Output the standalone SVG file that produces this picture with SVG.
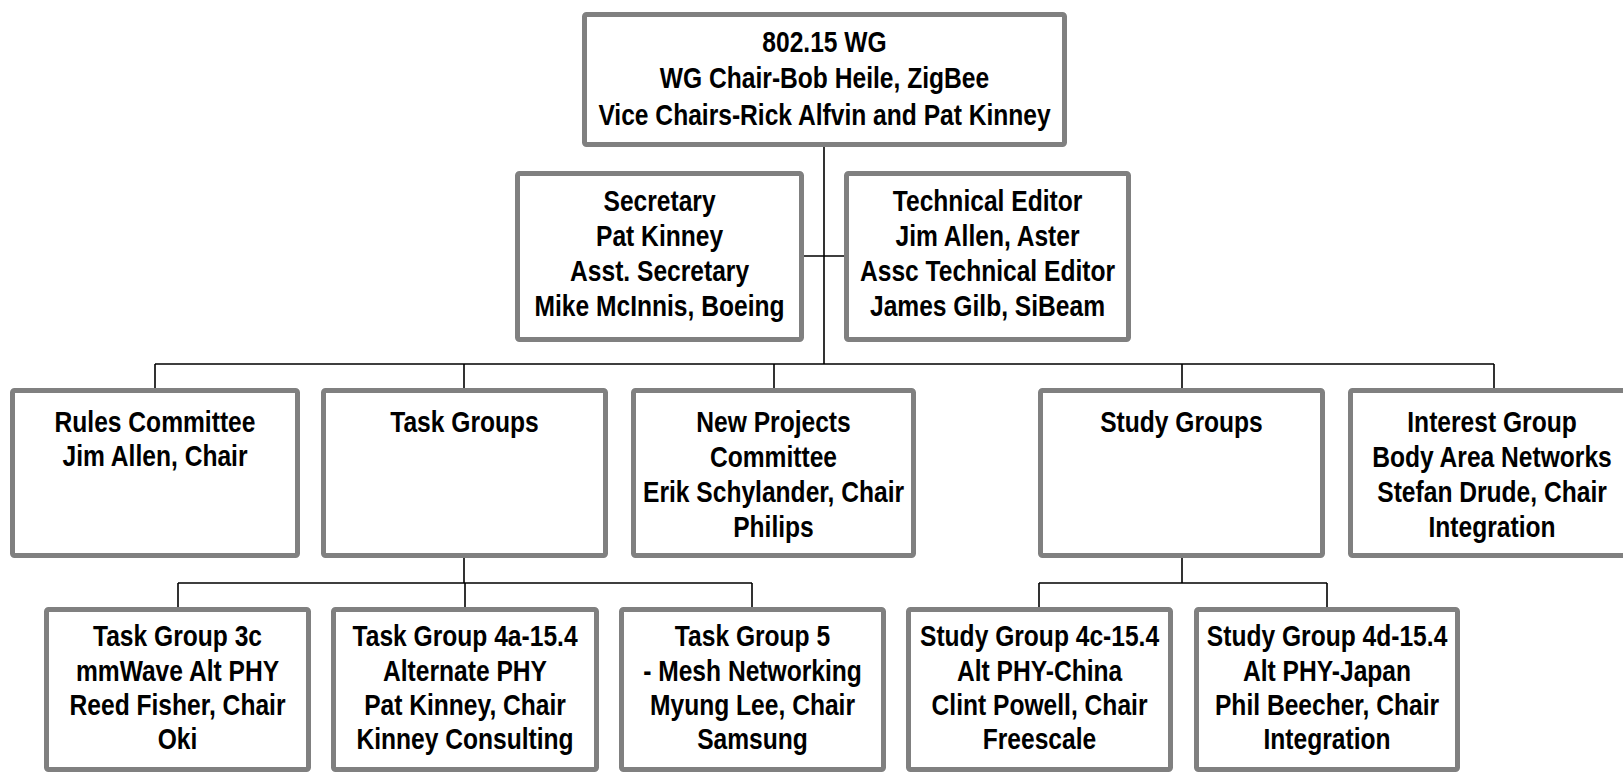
<svg xmlns="http://www.w3.org/2000/svg" width="1623" height="772" viewBox="0 0 1623 772">
<style>
.box{fill:#fff;stroke:#808080;stroke-width:5}
.ln{stroke:#000;stroke-width:1.6;fill:none}
text{font-family:"Liberation Sans",Arial,sans-serif;font-weight:bold;font-size:30px;fill:#000;text-anchor:middle;transform-box:fill-box;transform-origin:center;transform:scaleX(.82)}
</style>
<rect width="1623" height="772" fill="#fff"/>
<g id="connectors">
<path class="ln" d="M824 146V364M804 256H844M155 364H1494M155 364V388M464 364V388M774 364V388M1182 364V388M1494 364V388M464 557V583M178 583H752M178 583V607M465 583V607M752 583V607M1182 557V583M1039 583H1327M1039 583V607M1327 583V607"/>
</g>
<g id="wg">
<rect class="box" x="584.5" y="14.5" width="480" height="130" rx="2"/>
<text x="824.5" y="52">802.15 WG</text>
<text x="824.5" y="88">WG Chair-Bob Heile, ZigBee</text>
<text x="824.5" y="125">Vice Chairs-Rick Alfvin and Pat Kinney</text>
</g>
<g id="secretary">
<rect class="box" x="517.5" y="173.5" width="284" height="166" rx="2"/>
<text x="659.5" y="211">Secretary</text>
<text x="659.5" y="246">Pat Kinney</text>
<text x="659.5" y="281">Asst. Secretary</text>
<text x="659.5" y="316">Mike McInnis, Boeing</text>
</g>
<g id="techeditor">
<rect class="box" x="846.5" y="173.5" width="282" height="166" rx="2"/>
<text x="987.5" y="211">Technical Editor</text>
<text x="987.5" y="246">Jim Allen, Aster</text>
<text x="987.5" y="281">Assc Technical Editor</text>
<text x="987.5" y="316">James Gilb, SiBeam</text>
</g>
<g id="rules">
<rect class="box" x="12.5" y="390.5" width="285" height="165" rx="2"/>
<text x="155" y="432">Rules Committee</text>
<text x="155" y="466">Jim Allen, Chair</text>
</g>
<g id="taskgroups">
<rect class="box" x="323.5" y="390.5" width="282" height="165" rx="2"/>
<text x="464.5" y="432">Task Groups</text>
</g>
<g id="newprojects">
<rect class="box" x="633.5" y="390.5" width="280" height="165" rx="2"/>
<text x="773.5" y="432">New Projects</text>
<text x="773.5" y="467">Committee</text>
<text x="773.5" y="502">Erik Schylander, Chair</text>
<text x="773.5" y="537">Philips</text>
</g>
<g id="studygroups">
<rect class="box" x="1040.5" y="390.5" width="282" height="165" rx="2"/>
<text x="1181.5" y="432">Study Groups</text>
</g>
<g id="interest">
<rect class="box" x="1350.5" y="390.5" width="286" height="165" rx="2"/>
<text x="1492" y="432">Interest Group</text>
<text x="1492" y="467">Body Area Networks</text>
<text x="1492" y="502">Stefan Drude, Chair</text>
<text x="1492" y="537">Integration</text>
</g>
<g id="tg3c">
<rect class="box" x="46.5" y="609.5" width="262" height="160" rx="2"/>
<text x="177.5" y="646">Task Group 3c</text>
<text x="177.5" y="681">mmWave Alt PHY</text>
<text x="177.5" y="715">Reed Fisher, Chair</text>
<text x="177.5" y="749">Oki</text>
</g>
<g id="tg4a">
<rect class="box" x="333.5" y="609.5" width="263" height="160" rx="2"/>
<text x="465" y="646">Task Group 4a-15.4</text>
<text x="465" y="681">Alternate PHY</text>
<text x="465" y="715">Pat Kinney, Chair</text>
<text x="465" y="749">Kinney Consulting</text>
</g>
<g id="tg5">
<rect class="box" x="621.5" y="609.5" width="262" height="160" rx="2"/>
<text x="752.5" y="646">Task Group 5</text>
<text x="752.5" y="681">- Mesh Networking</text>
<text x="752.5" y="715">Myung Lee, Chair</text>
<text x="752.5" y="749">Samsung</text>
</g>
<g id="sg4c">
<rect class="box" x="908.5" y="609.5" width="262" height="160" rx="2"/>
<text x="1039.5" y="646">Study Group 4c-15.4</text>
<text x="1039.5" y="681">Alt PHY-China</text>
<text x="1039.5" y="715">Clint Powell, Chair</text>
<text x="1039.5" y="749">Freescale</text>
</g>
<g id="sg4d">
<rect class="box" x="1196.5" y="609.5" width="261" height="160" rx="2"/>
<text x="1327" y="646">Study Group 4d-15.4</text>
<text x="1327" y="681">Alt PHY-Japan</text>
<text x="1327" y="715">Phil Beecher, Chair</text>
<text x="1327" y="749">Integration</text>
</g>
</svg>
